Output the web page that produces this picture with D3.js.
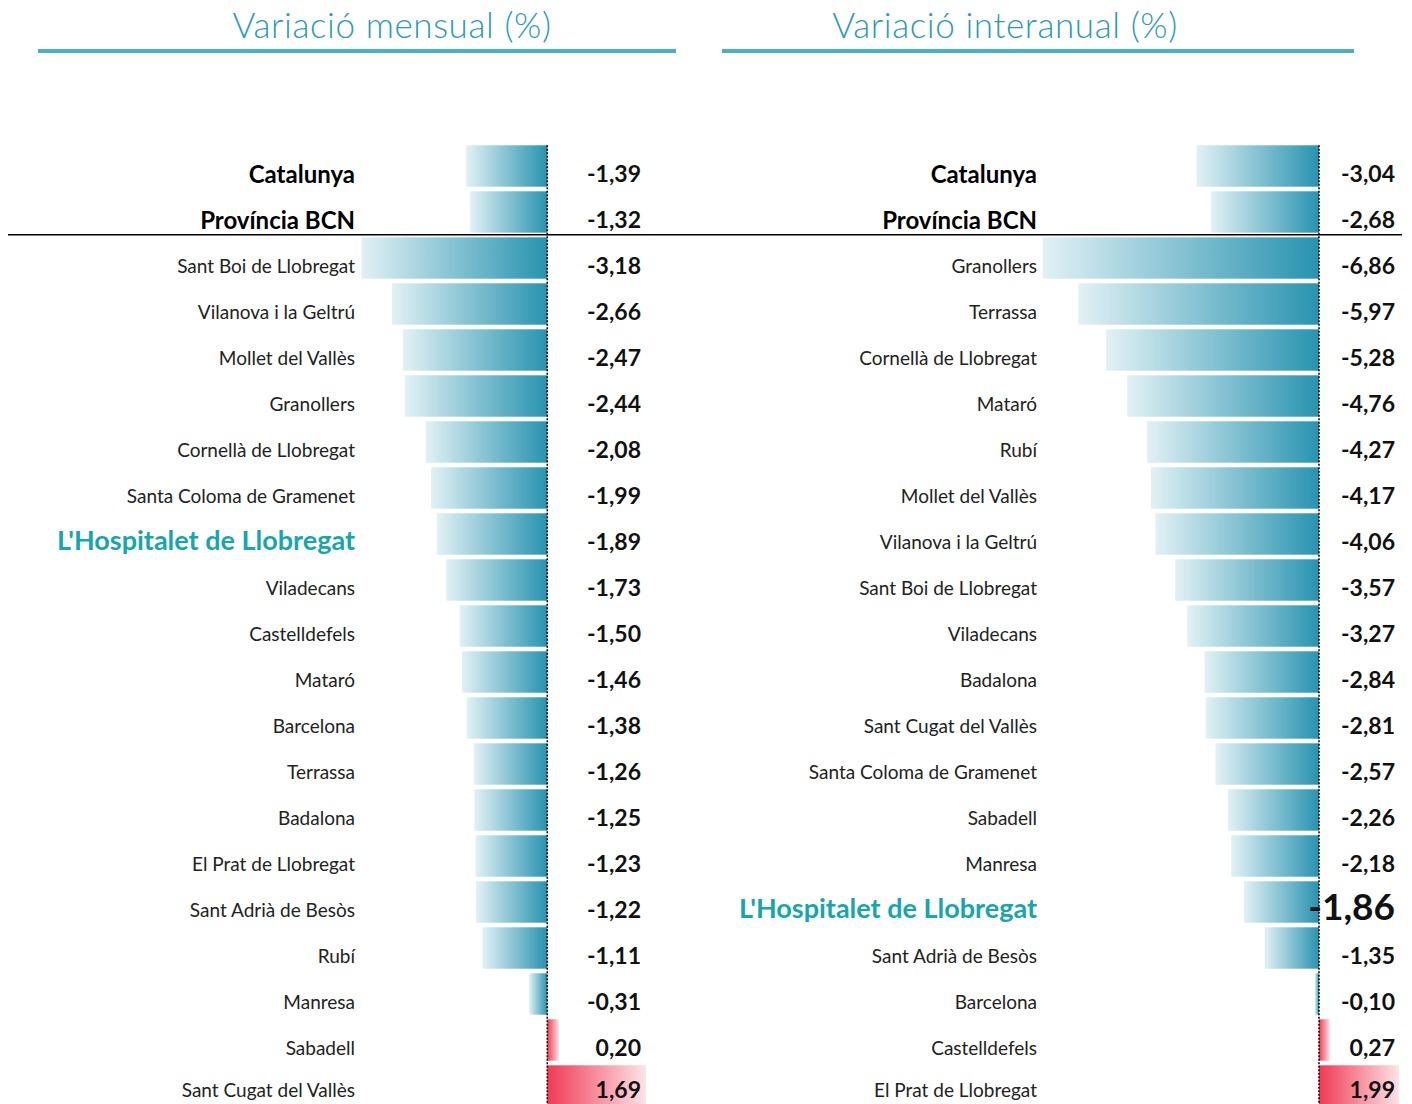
<!DOCTYPE html>
<html>
<head>
<meta charset="utf-8">
<script src="https://cdn.jsdelivr.net/npm/d3@7"></script>
<style>
  body { margin: 0; background: #fff; }
  svg { display: block; }
</style>
</head>
<body>
<div id="chart"></div>
<script>
// --- data ---
const monthlyNames = ["Catalunya", "Província BCN", "Sant Boi de Llobregat", "Vilanova i la Geltrú",
  "Mollet del Vallès", "Granollers", "Cornellà de Llobregat", "Santa Coloma de Gramenet",
  "L'Hospitalet de Llobregat", "Viladecans", "Castelldefels", "Mataró", "Barcelona", "Terrassa",
  "Badalona", "El Prat de Llobregat", "Sant Adrià de Besòs", "Rubí", "Manresa", "Sabadell",
  "Sant Cugat del Vallès"];
const monthlyValues = [-1.39, -1.32, -3.18, -2.66, -2.47, -2.44, -2.08, -1.99, -1.89, -1.73, -1.50,
  -1.46, -1.38, -1.26, -1.25, -1.23, -1.22, -1.11, -0.31, 0.20, 1.69];

const yearlyNames = ["Catalunya", "Província BCN", "Granollers", "Terrassa", "Cornellà de Llobregat",
  "Mataró", "Rubí", "Mollet del Vallès", "Vilanova i la Geltrú", "Sant Boi de Llobregat", "Viladecans",
  "Badalona", "Sant Cugat del Vallès", "Santa Coloma de Gramenet", "Sabadell", "Manresa",
  "L'Hospitalet de Llobregat", "Sant Adrià de Besòs", "Barcelona", "Castelldefels",
  "El Prat de Llobregat"];
const yearlyValues = [-3.04, -2.68, -6.86, -5.97, -5.28, -4.76, -4.27, -4.17, -4.06, -3.57, -3.27,
  -2.84, -2.81, -2.57, -2.26, -2.18, -1.86, -1.35, -0.10, 0.27, 1.99];

const titles = ["Variació mensual (%)", "Variació interanual (%)"];
const highlight = "L'Hospitalet de Llobregat";
const aggregates = ["Catalunya", "Província BCN"];

const W = 1412, H = 1104;
const svg = d3.select("#chart").append("svg").attr("width", W).attr("height", H);

const defs = svg.append("defs");
const blueGrad = defs.append("linearGradient").attr("id", "gNeg").attr("x1", 0).attr("x2", 1).attr("y1", 0).attr("y2", 0);
blueGrad.append("stop").attr("offset", "0%").attr("stop-color", "#e2f1f5");
blueGrad.append("stop").attr("offset", "100%").attr("stop-color", "#2893b0");
const redGrad = defs.append("linearGradient").attr("id", "gPos").attr("x1", 0).attr("x2", 1).attr("y1", 0).attr("y2", 0);
redGrad.append("stop").attr("offset", "0%").attr("stop-color", "#f03a55");
redGrad.append("stop").attr("offset", "100%").attr("stop-color", "#fde3e7");

// catalan style: comma decimals, plain hyphen for minus
const fmt = v => d3.format(".2f")(v).replace(".", ",").replace("\u2212", "-");

// row positions shared by both panels
const rowIdx = d3.range(monthlyNames.length);
const y = d3.scaleBand().domain(rowIdx).range([143, 1109]).paddingInner(0.1).paddingOuter(0.05);
const textY = i => Math.min(y(i) + y.bandwidth() / 2 + 7, H - 15);

// separator under the aggregates
svg.append("line")
  .attr("x1", 8).attr("x2", 1402)
  .attr("y1", y(2) - 2.5).attr("y2", y(2) - 2.5)
  .attr("stroke", "#000").attr("stroke-width", 1.6);

const panels = [
  { names: monthlyNames, values: monthlyValues, title: titles[0], titleX: 392, ruleX: [38, 676],
    x: d3.scaleLinear().domain([-3.18, 1.69]).range([361.5, 646]), labelRight: 355, valueRight: 641 },
  { names: yearlyNames, values: yearlyValues, title: titles[1], titleX: 1005, ruleX: [722, 1354],
    x: d3.scaleLinear().domain([-6.86, 1.99]).range([1042.5, 1399.2]), labelRight: 1037, valueRight: 1395 }
];

panels.forEach(p => {
  const g = svg.append("g");

  g.append("text")
    .attr("x", p.titleX).attr("y", 38)
    .attr("text-anchor", "middle")
    .style("font-family", "Lato, 'Noto Sans', sans-serif")
    .style("font-weight", 300)
    .style("font-size", "35px")
    .style("letter-spacing", "0.6px")
    .style("fill", "#2a9bb7")
    .text(p.title);

  g.append("line")
    .attr("x1", p.ruleX[0]).attr("x2", p.ruleX[1])
    .attr("y1", 51).attr("y2", 51)
    .attr("stroke", "#4aafc8").attr("stroke-width", 4);

  const rows = p.names.map((n, i) => ({ name: n, value: p.values[i], i: i }));
  const x0 = p.x(0);

  g.selectAll("rect.bar").data(rows).join("rect")
    .attr("class", "bar")
    .attr("x", d => Math.min(p.x(d.value), x0))
    .attr("width", d => Math.abs(p.x(d.value) - x0))
    .attr("y", d => y(d.i))
    .attr("height", y.bandwidth())
    .attr("fill", d => d.value < 0 ? "url(#gNeg)" : "url(#gPos)");

  // zero line, dotted
  g.append("line")
    .attr("x1", x0).attr("x2", x0)
    .attr("y1", y(0)).attr("y2", H)
    .attr("stroke", "#000").attr("stroke-width", 1.5)
    .attr("stroke-dasharray", "2,1.5");

  // category labels
  g.selectAll("text.lbl").data(rows).join("text")
    .attr("class", "lbl")
    .attr("x", p.labelRight)
    .attr("y", d => textY(d.i) - (d.name === highlight ? 2 : 0))
    .attr("dominant-baseline", "central")
    .attr("text-anchor", "end")
    .style("font-family", "Lato, 'Noto Sans', sans-serif")
    .style("font-weight", d => (aggregates.includes(d.name) || d.name === highlight) ? 700 : 400)
    .style("font-size", d => d.name === highlight ? "27px" : aggregates.includes(d.name) ? "24px" : "19px")
    .style("fill", d => d.name === highlight ? "#16a6ad" : aggregates.includes(d.name) ? "#000" : "#222")
    .text(d => d.name);

  // values
  g.selectAll("text.val").data(rows).join("text")
    .attr("class", "val")
    .attr("x", p.valueRight)
    .attr("y", d => textY(d.i) - ((d.name === highlight && p.title === titles[1]) ? 4 : 0))
    .attr("dominant-baseline", "central")
    .attr("text-anchor", "end")
    .style("font-family", "Lato, 'Noto Sans', sans-serif")
    .style("font-weight", 700)
    .style("font-size", d => (d.name === highlight && p.title === titles[1]) ? "37px" : "23px")
    .style("fill", "#111")
    .text(d => fmt(d.value));
});
</script>
</body>
</html>
